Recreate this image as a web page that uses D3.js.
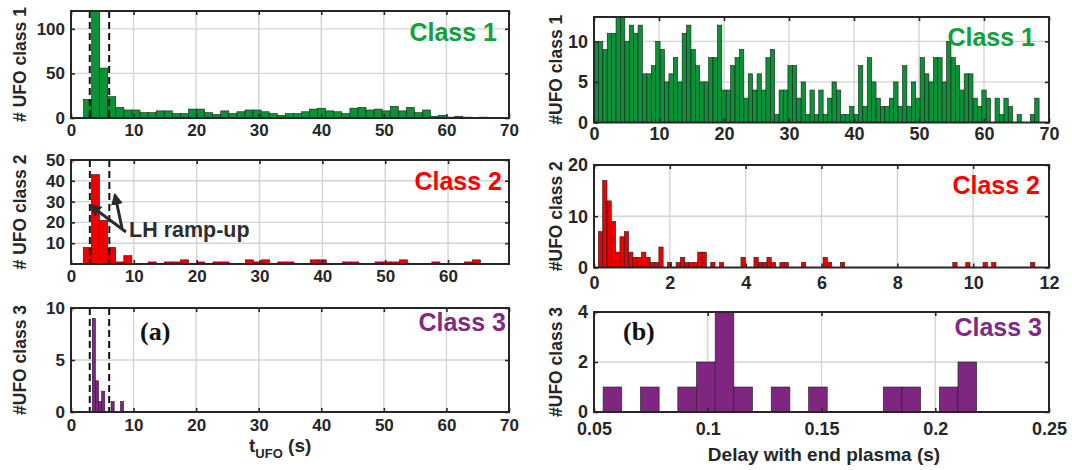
<!DOCTYPE html>
<html>
<head>
<meta charset="utf-8">
<script src="https://cdnjs.cloudflare.com/ajax/libs/d3/7.8.5/d3.min.js"></script>
<style>
  body { margin: 0; background: #fff; }
  svg { display: block; }
  text { font-family: "Liberation Sans", Arial, sans-serif; font-weight: bold; fill: #262626; }
</style>
</head>
<body>
<svg id="fig" width="1072" height="470"></svg>
<script>
// ---- (a) number of UFOs versus t_UFO (s) ----
const timeBinStart1 = 2.0, timeBinWidth1 = 1.29;
const class1ByTime = [21, 137, 56, 24, 12, 9, 9, 6, 6, 8,
                      8, 5, 5, 10, 10, 6, 4, 8, 5, 7,
                      9, 9, 7, 5, 3, 5, 5, 7, 10, 11,
                      8, 7, 5, 11, 12, 9, 10, 8, 13, 8,
                      12, 6, 9, 2, 3, 1, 2, 1, 0, 1];
const timeBinStart2 = 1.95, timeBinWidth2 = 1.29;
const class2ByTime = [8, 43, 21, 8, 1, 4, 0, 0, 1, 0,
                      1, 1, 2, 0, 1, 0, 1, 1, 0, 0,
                      2, 1, 2, 0, 1, 1, 0, 0, 2, 2,
                      0, 0, 1, 1, 0, 0, 1, 1, 1, 2,
                      0, 0, 0, 1, 0, 0, 0, 1, 2];
const timeBinStart3 = 3.4, timeBinWidth3 = 0.5;
const class3ByTime = [9, 3, 1, 2, 0, 0, 1, 0, 0, 1];
const lhRampUp = [3.0, 6.1];

// ---- (b) number of UFOs versus delay with end of plasma (s) ----
const delayBinStart1 = 0, delayBinWidth1 = 0.678;
const class1ByDelay = [10, 10, 9, 11, 11, 13, 13, 10, 12, 11,
                       12, 6, 6, 7, 10, 9, 5, 6, 8, 5,
                       11, 12, 9, 7, 5, 5, 8, 8, 12, 4,
                       4, 7, 8, 9, 3, 6, 4, 6, 4, 8,
                       9, 1, 4, 4, 7, 7, 3, 5, 1, 4,
                       1, 4, 1, 3, 5, 4, 1, 1, 2, 1,
                       7, 2, 8, 5, 3, 2, 2, 3, 5, 2,
                       7, 2, 5, 3, 8, 6, 5, 8, 8, 5,
                       10, 8, 7, 4, 6, 6, 3, 2, 4, 3,
                       0, 3, 1, 3, 2, 0, 1, 0, 0, 1,
                       3];
const delayBinStart2 = 0.114, delayBinWidth2 = 0.114;
const class2ByDelay = [7, 17, 13, 9, 3, 6, 7, 3, 2, 2,
                       3, 2, 1, 1, 4, 0, 1, 0, 1, 2,
                       1, 1, 1, 3, 3, 0, 1, 0, 1, 0,
                       0, 0, 0, 2, 0, 0, 2, 1, 1, 2,
                       1, 0, 1, 1, 0, 0, 0, 1, 0, 0,
                       0, 0, 2, 1, 0, 0, 1, 0, 0, 0,
                       0, 0, 0, 0, 0, 0, 0, 0, 0, 0,
                       0, 0, 0, 0, 0, 0, 0, 0, 0, 0,
                       0, 0, 1, 0, 0, 1, 0, 0, 0, 1,
                       0, 1, 0, 0, 0, 0, 0, 0, 0, 0,
                       1];
const delayBinStart3 = 0.054, delayBinWidth3 = 0.00821;
const class3ByDelay = [1, 0, 1, 0, 1, 2, 4, 1, 0, 1,
                       0, 1, 0, 0, 0, 1, 1, 0, 1, 2];

// ---- axis ticks ----
const timeTicks = [0, 10, 20, 30, 40, 50, 60, 70];
const timeTicksMid = [0, 10, 20, 30, 40, 50, 60];
const yTicksTime1 = [0, 50, 100];
const yTicksTime2 = [10, 20, 30, 40, 50];
const yTicksTime3 = [0, 5, 10];
const delayTicks1 = [0, 10, 20, 30, 40, 50, 60, 70];
const delayTicks2 = [0, 2, 4, 6, 8, 10, 12];
const delayTicks3 = [0.05, 0.1, 0.15, 0.2, 0.25];
const yTicksDelay1 = [0, 5, 10];
const yTicksDelay2 = [0, 10, 20];
const yTicksDelay3 = [0, 2, 4];

const GREEN = "#0b9236", GREEN_TXT = "#12a03c";
const RED = "#ee0000", RED_TXT = "#ff0000";
const PURPLE = "#7e2680", PURPLE_TXT = "#7e2a86";

const svg = d3.select("#fig");

function drawPanel(p) {
  const x = d3.scaleLinear().domain(p.xDomain).range([p.left, p.right]);
  const y = d3.scaleLinear().domain(p.yDomain).range([p.bottom, p.top]);
  const g = svg.append("g");
  const yMax = p.yDomain[1];

  // grid
  g.append("g").selectAll("line").data(p.xTicks.filter(d => x(d) > p.left + 1 && x(d) < p.right - 1))
    .join("line")
    .attr("x1", d => x(d)).attr("x2", d => x(d))
    .attr("y1", p.top).attr("y2", p.bottom)
    .attr("stroke", "#d4d4d4").attr("stroke-width", 1.4);
  g.append("g").selectAll("line").data(p.yTicks.filter(d => y(d) > p.top + 1 && y(d) < p.bottom - 1))
    .join("line")
    .attr("x1", p.left).attr("x2", p.right)
    .attr("y1", d => y(d)).attr("y2", d => y(d))
    .attr("stroke", "#d4d4d4").attr("stroke-width", 1.4);

  // histogram bars
  const bins = p.counts.map((c, i) => ({
    x0: p.binStart + i * p.binWidth,
    x1: p.binStart + (i + 1) * p.binWidth,
    c: c
  })).filter(b => b.c > 0);
  g.append("g").selectAll("rect").data(bins).join("rect")
    .attr("x", b => x(b.x0))
    .attr("width", b => x(b.x1) - x(b.x0))
    .attr("y", b => y(Math.min(b.c, yMax)))
    .attr("height", b => y(0) - y(Math.min(b.c, yMax)))
    .attr("fill", p.color)
    .attr("stroke", "#1e1e1e").attr("stroke-width", 0.6);

  // L-H transition window
  if (p.dashed) {
    g.append("g").selectAll("line").data(p.dashed).join("line")
      .attr("x1", d => x(d)).attr("x2", d => x(d))
      .attr("y1", p.top).attr("y2", p.bottom)
      .attr("stroke", "#111").attr("stroke-width", 2)
      .attr("stroke-dasharray", "7,4");
  }

  // axes with inward ticks on every side
  const tickLen = 4;
  const ax = g.append("g").attr("transform", `translate(0,${p.bottom})`)
    .call(d3.axisBottom(x).tickValues(p.xTicks).tickSize(-tickLen).tickPadding(p.xPad)
      .tickFormat(p.xFormat || d3.format("")));
  const ay = g.append("g").attr("transform", `translate(${p.left},0)`)
    .call(d3.axisLeft(y).tickValues(p.yTicks).tickSize(-tickLen).tickPadding(6)
      .tickFormat(d3.format("")));
  const at = g.append("g").attr("transform", `translate(0,${p.top})`)
    .call(d3.axisTop(x).tickValues(p.xTicks).tickSize(-tickLen).tickFormat(""));
  const ar = g.append("g").attr("transform", `translate(${p.right},0)`)
    .call(d3.axisRight(y).tickValues(p.yTicks).tickSize(-tickLen).tickFormat(""));
  [ax, ay, at, ar].forEach(a => {
    a.select(".domain").remove();
    a.selectAll(".tick line").attr("stroke", "#262626").attr("stroke-width", 1.6);
    a.selectAll("text").attr("font-size", p.tickFont).attr("fill", "#262626")
      .attr("font-family", "Liberation Sans, Arial, sans-serif").attr("font-weight", "bold");
  });

  // frame
  g.append("rect")
    .attr("x", p.left).attr("y", p.top)
    .attr("width", p.right - p.left).attr("height", p.bottom - p.top)
    .attr("fill", "none").attr("stroke", "#262626").attr("stroke-width", 2);

  // y-axis title
  g.append("text")
    .attr("transform", `translate(${p.yTitleX},${(p.top + p.bottom) / 2}) rotate(-90)`)
    .attr("text-anchor", "middle").attr("dominant-baseline", "central")
    .attr("font-size", 17.5)
    .text(p.yTitle);

  // class tag
  g.append("text")
    .attr("x", p.tagX).attr("y", p.tagY)
    .attr("text-anchor", "end").attr("font-size", 25)
    .style("fill", p.tagColor)
    .text(p.tag);
}

const LEFT = 71, RIGHT = 509, LEFT_B = 594, RIGHT_B = 1049;

drawPanel({ left: LEFT, right: RIGHT, top: 11, bottom: 118,
  xDomain: [0, 70], yDomain: [0, 120], xTicks: timeTicks, yTicks: yTicksTime1,
  counts: class1ByTime, binStart: timeBinStart1, binWidth: timeBinWidth1,
  color: GREEN, dashed: lhRampUp, tickFont: 17, xPad: 6,
  yTitle: "# UFO class 1", yTitleX: 20, tag: "Class 1", tagX: 497, tagY: 41, tagColor: GREEN_TXT });

drawPanel({ left: LEFT, right: RIGHT, top: 160, bottom: 264,
  xDomain: [0, 69.7], yDomain: [0, 50], xTicks: timeTicksMid, yTicks: yTicksTime2,
  counts: class2ByTime, binStart: timeBinStart2, binWidth: timeBinWidth2,
  color: RED, dashed: lhRampUp, tickFont: 17, xPad: 6,
  yTitle: "# UFO class 2", yTitleX: 20, tag: "Class 2", tagX: 502, tagY: 190, tagColor: RED_TXT });

drawPanel({ left: LEFT, right: RIGHT, top: 308, bottom: 412,
  xDomain: [0, 70], yDomain: [0, 10], xTicks: timeTicks, yTicks: yTicksTime3,
  counts: class3ByTime, binStart: timeBinStart3, binWidth: timeBinWidth3,
  color: PURPLE, dashed: lhRampUp, tickFont: 17, xPad: 7,
  yTitle: "#UFO class 3", yTitleX: 20, tag: "Class 3", tagX: 506, tagY: 331, tagColor: PURPLE_TXT });

drawPanel({ left: LEFT_B, right: RIGHT_B, top: 17, bottom: 122.5,
  xDomain: [0, 70], yDomain: [0, 13], xTicks: delayTicks1, yTicks: yTicksDelay1,
  counts: class1ByDelay, binStart: delayBinStart1, binWidth: delayBinWidth1,
  color: GREEN, tickFont: 18, xPad: 5,
  yTitle: "#UFO class 1", yTitleX: 556, tag: "Class 1", tagX: 1035, tagY: 46, tagColor: GREEN_TXT });

drawPanel({ left: LEFT_B, right: RIGHT_B, top: 165, bottom: 267.5,
  xDomain: [0, 12], yDomain: [0, 20], xTicks: delayTicks2, yTicks: yTicksDelay2,
  counts: class2ByDelay, binStart: delayBinStart2, binWidth: delayBinWidth2,
  color: RED, tickFont: 18, xPad: 9,
  yTitle: "#UFO class 2", yTitleX: 556, tag: "Class 2", tagX: 1040, tagY: 194, tagColor: RED_TXT });

drawPanel({ left: LEFT_B, right: RIGHT_B, top: 312, bottom: 412,
  xDomain: [0.05, 0.25], yDomain: [0, 4], xTicks: delayTicks3, yTicks: yTicksDelay3,
  counts: class3ByDelay, binStart: delayBinStart3, binWidth: delayBinWidth3,
  color: PURPLE, tickFont: 18, xPad: 10, xFormat: d3.format("~g"),
  yTitle: "#UFO class 3", yTitleX: 556, tag: "Class 3", tagX: 1042, tagY: 336, tagColor: PURPLE_TXT });

// x-axis titles
const tTitle = svg.append("text").attr("x", 249).attr("y", 452).attr("font-size", 19);
tTitle.append("tspan").text("t");
tTitle.append("tspan").attr("font-size", 13).attr("dy", 6).text("UFO");
tTitle.append("tspan").attr("dy", -6).text(" (s)");

svg.append("text").attr("x", 824).attr("y", 461)
  .attr("text-anchor", "middle").attr("font-size", 19)
  .text("Delay with end plasma (s)");

// panel letters
svg.append("text").attr("x", 140).attr("y", 340)
  .style("font-family", "'Liberation Serif', 'Times New Roman', serif")
  .attr("font-size", 26).style("fill", "#111").text("(a)");
svg.append("text").attr("x", 623).attr("y", 340)
  .style("font-family", "'Liberation Serif', 'Times New Roman', serif")
  .attr("font-size", 26).style("fill", "#111").text("(b)");

// LH ramp-up annotation with two arrows
const defs = svg.append("defs");
defs.append("marker").attr("id", "arrowHead")
  .attr("viewBox", "0 0 10 10").attr("refX", 8).attr("refY", 5)
  .attr("markerWidth", 4).attr("markerHeight", 4).attr("orient", "auto")
  .append("path").attr("d", "M0,0 L10,5 L0,10 z").attr("fill", "#2a2a2a");
const arrows = [
  { x1: 126, y1: 232, x2: 91, y2: 206 },
  { x1: 122, y1: 228, x2: 115, y2: 195 }
];
svg.append("g").selectAll("line").data(arrows).join("line")
  .attr("x1", d => d.x1).attr("y1", d => d.y1)
  .attr("x2", d => d.x2).attr("y2", d => d.y2)
  .attr("stroke", "#2a2a2a").attr("stroke-width", 3)
  .attr("marker-end", "url(#arrowHead)");
svg.append("text").attr("x", 129).attr("y", 237)
  .attr("font-size", 21.5).style("fill", "#2e2e2e").text("LH ramp-up");
</script>
</body>
</html>
